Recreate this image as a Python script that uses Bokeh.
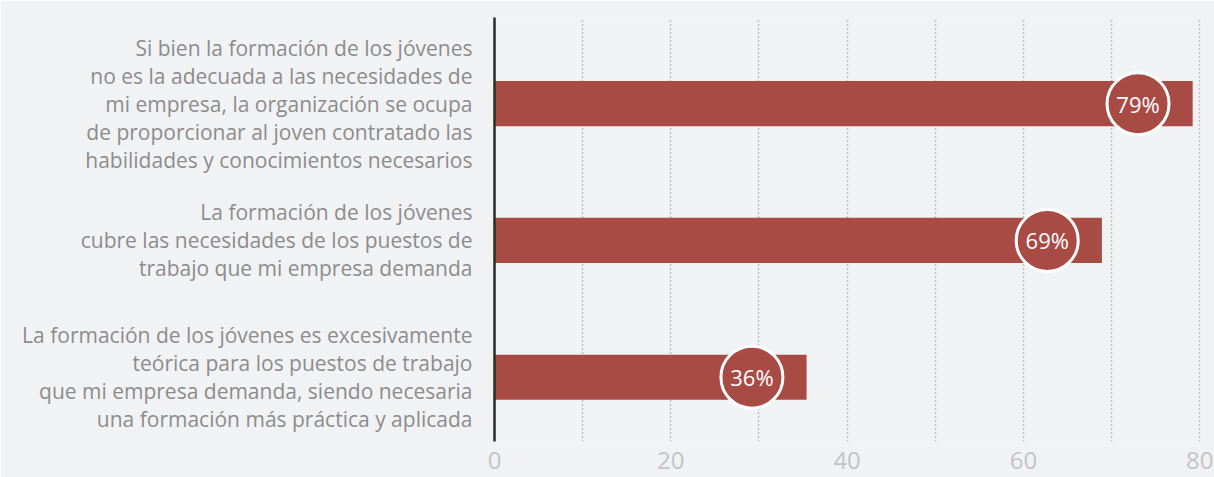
from bokeh.plotting import figure
from bokeh.models import Range1d, FixedTicker, SingleIntervalTicker, ColumnDataSource
from bokeh.core.properties import value
from bokeh.embed import file_html
from bokeh.resources import INLINE

categories = [
    "Si bien la formación de los jóvenes\nno es la adecuada a las necesidades de\nmi empresa, la organización se ocupa\nde proporcionar al joven contratado las\nhabilidades y conocimientos necesarios",
    "La formación de los jóvenes\ncubre las necesidades de los puestos de\ntrabajo que mi empresa demanda",
    "La formación de los jóvenes es excesivamente\nteórica para los puestos de trabajo\nque mi empresa demanda, siendo necesaria\nuna formación más práctica y aplicada",
]
values = [79.2, 68.9, 35.4]
labels = ["79%", "69%", "36%"]
x_ticks = [0, 20, 40, 60, 80]

BG = "#f1f2f4"
BAR = "#a94b45"
FONT = "Open Sans"

n = len(categories)
ypos = [n - 1 - i for i in range(n)]
circle_x = [v - 6.2 for v in values]

src = ColumnDataSource(dict(y=ypos, v=values, cx=circle_x, lab=labels))

p = figure(width=1214, height=477, output_backend="svg", toolbar_location=None,
           x_range=Range1d(0, 80.2), y_range=Range1d(-0.47, 2.63),
           min_border_left=494, min_border_right=13, min_border_top=17, min_border_bottom=36,
           background_fill_color=BG, border_fill_color=BG, outline_line_color=None)

p.hbar(y="y", right="v", left=0, height=0.33, source=src, fill_color=BAR, line_color=None)
p.circle(x="cx", y="y", radius=31, radius_units="screen", source=src,
         fill_color=BAR, line_color="white", line_width=3)
p.text(x="cx", y="y", text="lab", source=src, text_color="white",
       text_font=value(FONT), text_font_size="22px", text_align="center",
       text_baseline="middle")

# grid
p.ygrid.grid_line_color = None
p.xgrid.ticker = SingleIntervalTicker(interval=10)
p.xgrid.grid_line_color = "#8f8f8f"
p.xgrid.grid_line_dash = "1 3"
p.xgrid.grid_line_width = 1.5

# x axis
p.xaxis.ticker = FixedTicker(ticks=x_ticks)
p.xaxis.axis_line_color = None
p.xaxis.major_tick_line_color = None
p.xaxis.minor_tick_line_color = None
p.xaxis.major_label_text_color = "#c4c4c4"
p.xaxis.major_label_text_font = FONT
p.xaxis.major_label_text_font_size = "24px"
p.xaxis.major_label_standoff = 4

# y axis
p.yaxis.ticker = FixedTicker(ticks=ypos)
p.yaxis.major_label_overrides = {y: c for y, c in zip(ypos, categories)}
p.yaxis.axis_line_color = "#2b2b2b"
p.yaxis.axis_line_width = 2.5
p.yaxis.major_tick_line_color = None
p.yaxis.minor_tick_line_color = None
p.yaxis.major_label_text_color = "#8c8c8c"
p.yaxis.major_label_text_font = FONT
p.yaxis.major_label_text_font_size = "21px"
p.yaxis.major_label_text_line_height = 1.0
p.yaxis.major_label_standoff = 16

open("out.html", "w").write(file_html(p, INLINE))
